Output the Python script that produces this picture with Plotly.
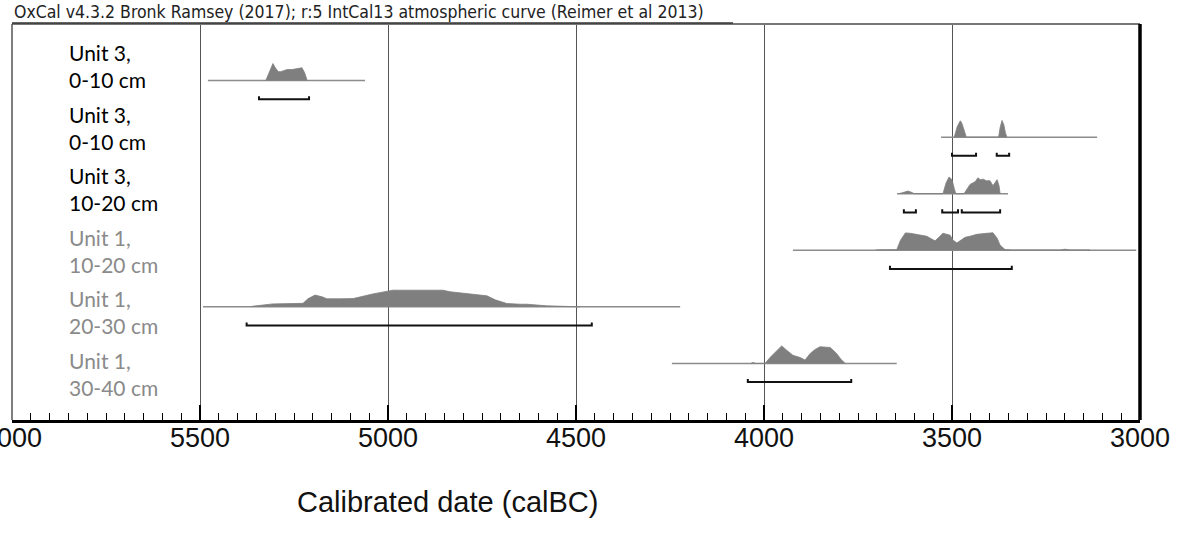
import plotly.graph_objects as go

# ---------------- data ----------------
header = "OxCal v4.3.2 Bronk Ramsey (2017); r:5 IntCal13 atmospheric curve (Reimer et al 2013)"
sample_labels = ["Unit 3,<br>0-10 cm", "Unit 3,<br>0-10 cm", "Unit 3,<br>10-20 cm",
                 "Unit 1,<br>10-20 cm", "Unit 1,<br>20-30 cm", "Unit 1,<br>30-40 cm"]
label_colors = ["#000000", "#000000", "#000000", "#8a8a8a", "#8a8a8a", "#8a8a8a"]

tick_years = [6000, 5500, 5000, 4500, 4000, 3500, 3000]
tick_labels = ["6000", "5500", "5000", "4500", "4000", "3500", "3000"]
x_title = "Calibrated date (calBC)"

# calibrated distributions: years (calBC) and relative probability
s1_years = [5325, 5318, 5310, 5306, 5300, 5292, 5285, 5278, 5268, 5255, 5245, 5235, 5229, 5222, 5215]
s1_prob = [0, 0.34, 0.80, 0.97, 0.74, 0.51, 0.51, 0.57, 0.63, 0.63, 0.66, 0.69, 0.73, 0.46, 0]
s1_span = [5479, 5061]
s1_ranges = [[5343, 5210]]

s2_years = [3494, 3490, 3486, 3478, 3474, 3470, 3466, 3462, 3376, 3372, 3367, 3362, 3358, 3354]
s2_prob = [0, 0.30, 0.60, 0.93, 0.80, 0.55, 0.20, 0, 0, 0.55, 0.95, 0.70, 0.25, 0]
s2_span = [3529, 3114]
s2_ranges = [[3500, 3436], [3381, 3348]]

s3_years = [3641, 3630, 3617, 3605, 3601, 3524, 3516, 3508, 3500, 3494, 3490,
            3468, 3460, 3452, 3438, 3431, 3425, 3417, 3409, 3399, 3391, 3385, 3380, 3375, 3372]
s3_prob = [0, 0.08, 0.15, 0.06, 0, 0, 0.60, 0.95, 0.80, 0.30, 0,
           0, 0.30, 0.53, 0.69, 0.91, 0.80, 0.83, 0.74, 0.74, 0.46, 0.63, 0.80, 0.46, 0]
s3_span = [3646, 3351]
s3_ranges = [[3628, 3596], [3526, 3484], [3474, 3372]]

s4_years = [3702, 3690, 3647, 3637, 3624, 3611, 3593, 3567, 3553, 3545, 3532, 3524, 3505, 3497,
            3487, 3478, 3465, 3452, 3434, 3407, 3391, 3380, 3372, 3359, 3340,
            3212, 3200, 3185, 3150, 3140, 3133]
s4_prob = [0.02, 0.03, 0.03, 0.57, 0.99, 0.97, 0.90, 0.80, 0.63, 0.54, 0.80, 0.97, 0.86, 0.57,
           0.42, 0.57, 0.74, 0.80, 0.91, 0.97, 1.0, 0.69, 0.29, 0.04, 0.02,
           0.02, 0.06, 0.02, 0.02, 0.06, 0.02]
s4_span = [3923, 3010]
s4_ranges = [[3665, 3341]]

s5_years = [5362, 5306, 5240, 5226, 5213, 5194, 5175, 5163, 5128, 5093, 5061, 5040, 4987, 4915,
            4854, 4835, 4808, 4782, 4737, 4715, 4684, 4649, 4631, 4578, 4508, 4489]
s5_prob = [0.03, 0.17, 0.17, 0.20, 0.46, 0.67, 0.57, 0.46, 0.46, 0.47, 0.63, 0.74, 0.95, 0.97,
           0.95, 0.86, 0.80, 0.74, 0.63, 0.40, 0.19, 0.15, 0.15, 0.06, 0.02, 0]
s5_span = [5492, 4223]
s5_ranges = [[5376, 4458]]

s6_years = [4035, 4029, 4022, 3997, 3984, 3968, 3953, 3939, 3923, 3904, 3891, 3877, 3864, 3851,
            3824, 3807, 3795, 3784]
s6_prob = [0, 0.06, 0, 0, 0.34, 0.69, 1.0, 0.74, 0.46, 0.34, 0.19, 0.57, 0.80, 0.95,
           0.91, 0.57, 0.23, 0]
s6_span = [4245, 3647]
s6_ranges = [[4043, 3768]]

samples = [
    (s1_years, s1_prob, s1_span, s1_ranges),
    (s2_years, s2_prob, s2_span, s2_ranges),
    (s3_years, s3_prob, s3_span, s3_ranges),
    (s4_years, s4_prob, s4_span, s4_ranges),
    (s5_years, s5_prob, s5_span, s5_ranges),
    (s6_years, s6_prob, s6_span, s6_ranges),
]

# ---------------- styling / layout constants ----------------
PROB_SCALE = 0.31       # y units for probability 1
BRACKET_DROP = 0.33     # bracket below baseline (y units)
BRACKET_TIP = 0.055
FILL = "#7f7f7f"
n = len(samples)

fig = go.Figure()

for i, (yrs, prob, span, ranges) in enumerate(samples):
    base = n - i
    fig.add_trace(go.Scatter(x=span, y=[base, base], mode="lines",
                             line=dict(color="#8c8c8c", width=1.5),
                             hoverinfo="skip", showlegend=False))
    xs = [yrs[0]] + yrs + [yrs[-1]]
    ys = [base] + [base + p * PROB_SCALE for p in prob] + [base]
    fig.add_trace(go.Scatter(x=xs, y=ys, mode="lines", fill="toself",
                             fillcolor=FILL, line=dict(color=FILL, width=0.8),
                             hoverinfo="skip", showlegend=False))
    for a, b in ranges:
        yb = base - BRACKET_DROP
        fig.add_trace(go.Scatter(x=[a, a, b, b], y=[yb + BRACKET_TIP, yb, yb, yb + BRACKET_TIP],
                                 mode="lines", line=dict(color="#111111", width=2),
                                 hoverinfo="skip", showlegend=False))

W, H = 1181, 541
L, T = 12, 24
R = W - 1140
B = H - 420
pw = W - L - R
ph = H - T - B

def px_x(x):  # page x -> paper
    return (x - L) / pw

def px_y(y):  # page y -> paper
    return 1 - (y - T) / ph

for i, (lab, col) in enumerate(zip(sample_labels, label_colors)):
    py = 66 + i * 61.5
    fig.add_annotation(x=px_x(67), y=px_y(py), xref="paper", yref="paper",
                       text=lab, showarrow=False, xanchor="left", yanchor="middle", align="left",
                       font=dict(family="Lato, Carlito, sans-serif", size=21, color=col))

fig.add_annotation(x=0, y=px_y(12), xref="paper", yref="paper", text=header,
                   showarrow=False, xanchor="left", yanchor="middle",
                   font=dict(family="Liberation Sans Narrow, DejaVu Sans Condensed, Liberation Sans, sans-serif",
                             size=17.5, color="#222222"))
fig.add_annotation(x=px_x(447), y=px_y(502), xref="paper", yref="paper",
                   text=x_title, showarrow=False, xanchor="center", yanchor="middle",
                   font=dict(family="Liberation Sans, Arial, sans-serif", size=29, color="#111111"))

# frame
fig.add_shape(type="line", xref="paper", yref="paper", x0=0, x1=1, y0=1, y1=1,
              line=dict(color="#777777", width=2))
fig.add_shape(type="line", xref="paper", yref="paper", x0=0, x1=px_x(733), y0=px_y(23), y1=px_y(23),
              line=dict(color="#333333", width=1.5))
fig.add_shape(type="line", xref="paper", yref="paper", x0=0, x1=0, y0=0, y1=1,
              line=dict(color="#555555", width=1.5))
fig.add_shape(type="line", xref="paper", yref="paper", x0=1, x1=1, y0=0, y1=1,
              line=dict(color="#000000", width=3.5))

fig.update_layout(
    width=W, height=H,
    margin=dict(l=L, r=R, t=T, b=B, autoexpand=False),
    paper_bgcolor="white", plot_bgcolor="white",
    xaxis=dict(range=[6000, 3000], tickvals=tick_years, ticktext=tick_labels,
               automargin=False,
               ticks="inside", ticklen=15, tickwidth=1.5, tickcolor="#000000",
               showline=True, linecolor="#000000", linewidth=2.5,
               showgrid=True, gridcolor="#555555", gridwidth=1.2, zeroline=False,
               ticklabeloverflow="allow", ticklabelstandoff=-8,
               tickfont=dict(family="Liberation Sans, Arial, sans-serif", size=27, color="#111111"),
               minor=dict(dtick=50, tick0=0, ticks="inside", ticklen=7, tickwidth=1.2,
                          tickcolor="#000000", showgrid=False)),
    yaxis=dict(range=[0, 7], visible=False, showgrid=False, zeroline=False, fixedrange=True,
               automargin=False),
    showlegend=False,
)

fig.write_html("out.html", config={"displayModeBar": False},
               post_script="document.body.style.margin='0px';")
